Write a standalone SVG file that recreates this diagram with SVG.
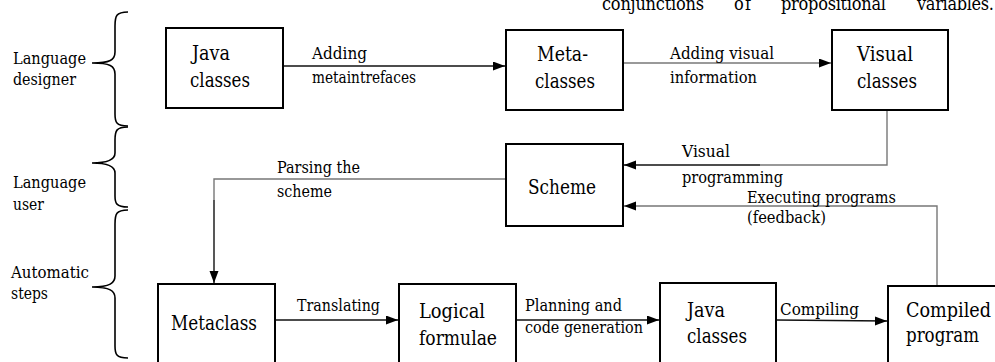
<svg xmlns="http://www.w3.org/2000/svg" width="995" height="362" viewBox="0 0 995 362" font-family="DejaVu Serif Condensed, DejaVu Serif, serif">
<style>
text{fill:#000}
.box{fill:#fff;stroke:#000;stroke-width:2}
.nt{font-size:19.5px}
.lt{font-size:17.5px}
.ln{fill:none;stroke:#111;stroke-width:1.4}
.lg{fill:none;stroke:#777;stroke-width:1.4}
.br{fill:none;stroke:#000;stroke-width:1.6}
</style>
<defs>
<marker id="ah" markerUnits="userSpaceOnUse" markerWidth="13" markerHeight="10" refX="12" refY="4.5" orient="auto">
<path d="M0,0 L12,4.5 L0,9 z" fill="#000"/>
</marker>
</defs>
<rect width="995" height="362" fill="#fff"/>
<text class="lt" style="font-size:18px" y="10" lengthAdjust="spacingAndGlyphs"><tspan x="602" textLength="102">conjunctions</tspan><tspan x="734" textLength="17">of</tspan><tspan x="781" textLength="105">propositional</tspan><tspan x="917" textLength="77">variables.</tspan></text>
<g id="labels">
<text class="lt" x="13" y="64" textLength="73" lengthAdjust="spacingAndGlyphs">Language</text>
<text class="lt" x="13" y="85" textLength="63" lengthAdjust="spacingAndGlyphs">designer</text>
<text class="lt" x="13" y="188" textLength="73" lengthAdjust="spacingAndGlyphs">Language</text>
<text class="lt" x="13" y="210" textLength="31" lengthAdjust="spacingAndGlyphs">user</text>
<text class="lt" x="11" y="278" textLength="78" lengthAdjust="spacingAndGlyphs">Automatic</text>
<text class="lt" x="11" y="299" textLength="37" lengthAdjust="spacingAndGlyphs">steps</text>
<path class="br" d="M128 12 C116 12 115 16 115 26 L115 52 C115 60 110 63 92 63 C110 63 115 66 115 74 L115 114 C115 122 116 126 128 126"/>
<path class="br" d="M128 127 C116 127 115 131 115 140 L115 153 C115 159 110 163 92 163 C110 163 115 167 115 173 L115 196 C115 203 116 207 128 207"/>
<path class="br" d="M128 210 C116 210 115 214 115 224 L115 276 C115 283 110 287 92 287 C110 287 115 291 115 298 L115 346 C115 354 116 358 128 358"/>
</g>
<g id="connectors">
<line class="ln" x1="283" y1="66" x2="505" y2="66" marker-end="url(#ah)"/>
<line class="lg" x1="623" y1="63" x2="831" y2="63" marker-end="url(#ah)"/>
<polyline class="lg" points="887,110 887,165 760,165"/>
<polyline class="ln" points="760,165 624,165" marker-end="url(#ah)"/>
<polyline class="lg" points="937,286 937,206 624,206" marker-end="url(#ah)"/>
<polyline class="lg" points="506,179 214,179 214,200"/>
<polyline class="ln" points="214,200 214,283" marker-end="url(#ah)"/>
<line class="ln" x1="275" y1="320" x2="398" y2="320" marker-end="url(#ah)"/>
<line class="ln" x1="517" y1="320" x2="659" y2="320" marker-end="url(#ah)"/>
<line class="ln" x1="776" y1="320" x2="887" y2="321" marker-end="url(#ah)"/>
<text class="lt" x="312" y="59" textLength="55" lengthAdjust="spacingAndGlyphs">Adding</text>
<text class="lt" x="312" y="83" textLength="104" lengthAdjust="spacingAndGlyphs">metaintrefaces</text>
<text class="lt" x="670" y="59" textLength="104" lengthAdjust="spacingAndGlyphs">Adding visual</text>
<text class="lt" x="670" y="83" textLength="87" lengthAdjust="spacingAndGlyphs">information</text>
<text class="lt" x="682" y="157" textLength="48" lengthAdjust="spacingAndGlyphs">Visual</text>
<text class="lt" x="682" y="183" textLength="101" lengthAdjust="spacingAndGlyphs">programming</text>
<text class="lt" x="747" y="203" textLength="149" lengthAdjust="spacingAndGlyphs">Executing programs</text>
<text class="lt" x="747" y="223" textLength="79" lengthAdjust="spacingAndGlyphs">(feedback)</text>
<text class="lt" x="277" y="173" textLength="83" lengthAdjust="spacingAndGlyphs">Parsing the</text>
<text class="lt" x="277" y="197" textLength="55" lengthAdjust="spacingAndGlyphs">scheme</text>
<text class="lt" x="297" y="311" textLength="83" lengthAdjust="spacingAndGlyphs">Translating</text>
<text class="lt" x="525" y="311" textLength="97" lengthAdjust="spacingAndGlyphs">Planning and</text>
<text class="lt" x="525" y="333" textLength="118" lengthAdjust="spacingAndGlyphs">code generation</text>
<text class="lt" x="780" y="315" textLength="79" lengthAdjust="spacingAndGlyphs">Compiling</text>
</g>
<g id="java-classes-top">
<rect class="box" x="166" y="28" width="117" height="80"/>
<text class="nt" x="192" y="60" textLength="38" lengthAdjust="spacingAndGlyphs">Java</text>
<text class="nt" x="190" y="87" textLength="60" lengthAdjust="spacingAndGlyphs">classes</text>
</g>
<g id="meta-classes">
<rect class="box" x="506" y="30" width="117" height="80"/>
<text class="nt" x="537" y="61" textLength="51" lengthAdjust="spacingAndGlyphs">Meta-</text>
<text class="nt" x="535" y="88" textLength="60" lengthAdjust="spacingAndGlyphs">classes</text>
</g>
<g id="visual-classes">
<rect class="box" x="832" y="30" width="116" height="80"/>
<text class="nt" x="857" y="61" textLength="56" lengthAdjust="spacingAndGlyphs">Visual</text>
<text class="nt" x="857" y="88" textLength="60" lengthAdjust="spacingAndGlyphs">classes</text>
</g>
<g id="scheme">
<rect class="box" x="506" y="144" width="117" height="82"/>
<text class="nt" x="528" y="194" textLength="68" lengthAdjust="spacingAndGlyphs">Scheme</text>
</g>
<g id="metaclass">
<rect class="box" x="158" y="284" width="117" height="100"/>
<text class="nt" x="171" y="330" textLength="86" lengthAdjust="spacingAndGlyphs">Metaclass</text>
</g>
<g id="logical-formulae">
<rect class="box" x="399" y="284" width="117" height="100"/>
<text class="nt" x="419" y="318" textLength="66" lengthAdjust="spacingAndGlyphs">Logical</text>
<text class="nt" x="419" y="345" textLength="78" lengthAdjust="spacingAndGlyphs">formulae</text>
</g>
<g id="java-classes-bottom">
<rect class="box" x="660" y="283" width="116" height="100"/>
<text class="nt" x="687" y="317" textLength="38" lengthAdjust="spacingAndGlyphs">Java</text>
<text class="nt" x="687" y="343" textLength="60" lengthAdjust="spacingAndGlyphs">classes</text>
</g>
<g id="compiled-program">
<rect class="box" x="888" y="286" width="130" height="100"/>
<text class="nt" x="906" y="317" textLength="85" lengthAdjust="spacingAndGlyphs">Compiled</text>
<text class="nt" x="906" y="342" textLength="73" lengthAdjust="spacingAndGlyphs">program</text>
</g>
</svg>
